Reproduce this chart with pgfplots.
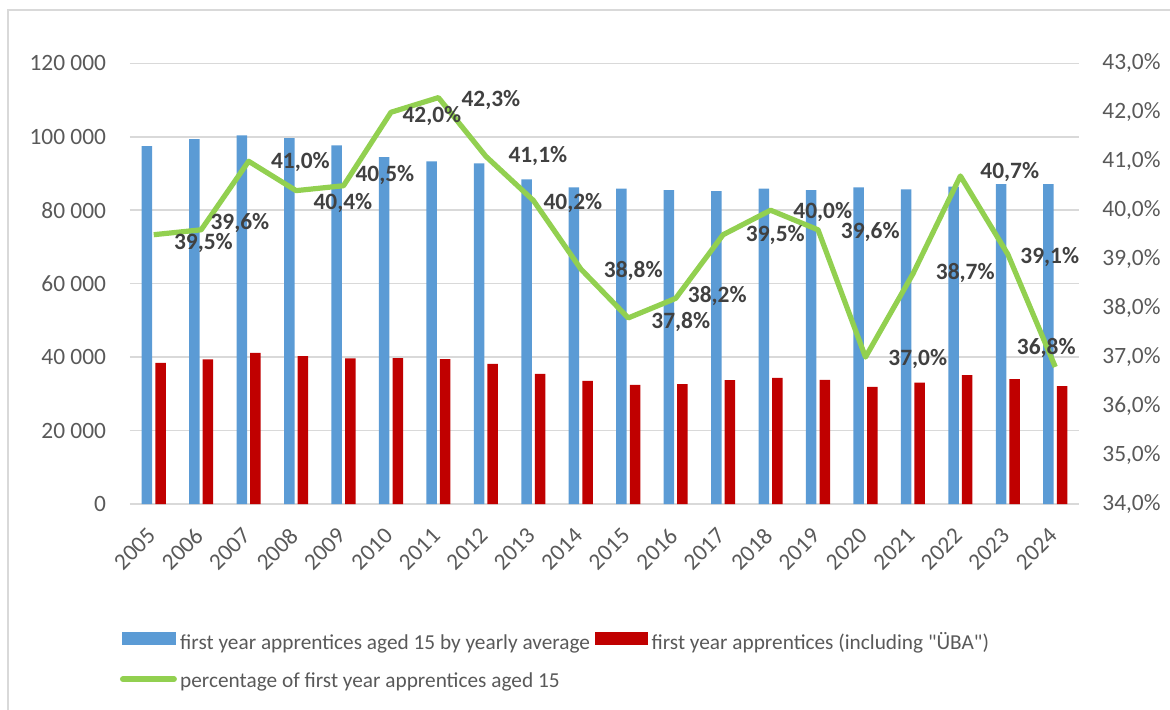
\documentclass[border=0pt]{standalone}
\usepackage{pgfplots}
\pgfplotsset{compat=1.18}
\usepackage{pgfplotstable}
\usepackage{fontspec}
\setmainfont{Carlito}
\newfontfamily\carl{Carlito}
\definecolor{cblue}{HTML}{5B9BD5}
\definecolor{cred}{HTML}{C00000}
\definecolor{cgreen}{HTML}{92D050}
\definecolor{cgrid}{HTML}{D9D9D9}
\definecolor{ctick}{HTML}{595959}
\definecolor{clabel}{HTML}{404040}

\pgfplotstableread{
x blue red
0 97460 38450
1 99370 39350
2 100370 41170
3 99640 40260
4 97650 39630
5 94460 39720
6 93290 39450
7 92740 38170
8 88380 35450
9 86200 33540
10 85900 32450
11 85450 32630
12 85200 33720
13 85900 34350
14 85450 33810
15 86200 31900
16 85650 33070
17 86400 35090
18 87100 34000
19 87100 32090
}\bars

\pgfplotstableread{
x pct
0 39.5
1 39.6
2 41.0
3 40.4
4 40.5
5 42.0
6 42.3
7 41.1
8 40.2
9 38.8
10 37.8
11 38.2
12 39.5
13 40.0
14 39.6
15 37.0
16 38.7
17 40.7
18 39.1
19 36.8
}\share

\pgfplotstableread{
x y v
1.047 39.337 39.5
1.816 39.745 39.6
3.091 40.990 41.0
3.987 40.141 40.4
4.871 40.719 40.5
5.862 41.924 42.0
7.105 42.251 42.3
8.095 41.113 41.1
8.833 40.141 40.2
10.107 38.765 38.8
11.108 37.711 37.8
11.877 38.254 38.2
13.100 39.494 39.5
14.100 39.970 40.0
15.101 39.561 39.6
16.102 36.955 37.0
17.103 38.724 38.7
18.040 40.786 40.7
18.883 39.051 39.1
18.810 37.192 36.8
}\labels

\pgfplotsset{
  common/.style={
    scale only axis, width=474.5pt, height=220.35pt,
    at={(0pt,0pt)}, anchor=south west,
    xmin=-0.5, xmax=19.5,
    axis line style={draw=none},
    major tick length=0pt,
    scaled y ticks=false, scaled x ticks=false,
    ticklabel style={font=\fontsize{11.7}{14}\selectfont, text=ctick, inner sep=0pt},
  }
}

\begin{document}
\begin{tikzpicture}
\useasboundingbox (-65pt,-102.5pt) rectangle (520pt,252pt);
\draw[cgrid, line width=0.6pt] (-61pt,-110pt) -- (-61pt,247pt) -- (530pt,247pt);

\begin{axis}[common,
  ymin=0, ymax=120000,
  ymajorgrids, grid style={cgrid, line width=0.75pt},
  xtick={0,1,...,19},
  xticklabels={2005,2006,2007,2008,2009,2010,2011,2012,2013,2014,2015,2016,2017,2018,2019,2020,2021,2022,2023,2024},
  ytick={0,20000,40000,60000,80000,100000,120000},
  yticklabels={0,20 000,40 000,60 000,80 000,100 000,120 000},
  yticklabel style={anchor=east, xshift=-11.8pt},
  xticklabel style={yshift=-14pt, xshift=-1pt, rotate=45, anchor=east},
]
\addplot[ybar, bar width=5.25pt, bar shift=-3.4pt, fill=cblue, draw=none] table[x=x, y=blue] {\bars};
\addplot[ybar, bar width=5.25pt, bar shift=3.4pt, fill=cred, draw=none] table[x=x, y=red] {\bars};
\end{axis}

\begin{axis}[common,
  ymin=34, ymax=43,
  axis x line=none, axis y line*=right,
  ytick={34,35,36,37,38,39,40,41,42,43},
  yticklabels={{34,0\%},{35,0\%},{36,0\%},{37,0\%},{38,0\%},{39,0\%},{40,0\%},{41,0\%},{42,0\%},{43,0\%}},
  yticklabel style={anchor=west, xshift=11.5pt},
  legend columns=2,
  legend cell align=left,
  legend style={draw=none, fill=none, at={(-0.01054,-0.2911)}, anchor=north west,
    font=\carl\fontsize{10.65}{12}\selectfont, text=ctick, inner sep=0pt, outer sep=0pt,
    row sep=9.2pt,
    nodes={inner sep=0pt, text height=7.5pt, text depth=2.5pt},
    /tikz/every odd column/.style={column sep=1.65pt},
    /tikz/every even column/.style={column sep=2.6pt}},
]
\addlegendimage{legend image code/.code={\fill[cblue] (1.35pt,0pt) rectangle (27.5pt,5.8pt);}}
\addlegendentry{first year apprentices aged 15 by yearly average}
\addlegendimage{legend image code/.code={\fill[cred] (1.35pt,0pt) rectangle (27.5pt,5.8pt);}}
\addlegendentry{first year apprentices (including "ÜBA")}
\addplot[cgreen, line width=2.6pt, line join=round, mark=none,
  legend image code/.code={\draw[cgreen, line width=2.85pt, line cap=round] (1.4pt,1.75pt) -- (27pt,1.75pt);}]
  table[x=x, y=pct] {\share};
\addlegendentry{percentage of first year apprentices aged 15}
\addplot[only marks, mark=none, forget plot,
  point meta=explicit,
  nodes near coords={\pgfmathprintnumber[assume math mode=true, fixed, fixed zerofill, precision=1, use comma]{\pgfplotspointmeta}\%},
  every node near coord/.append style={anchor=center, inner sep=0pt, font=\fontsize{11.7}{14}\selectfont\bfseries, text=clabel},
] table[x=x, y=y, meta=v] {\labels};
\end{axis}
\end{tikzpicture}
\end{document}
